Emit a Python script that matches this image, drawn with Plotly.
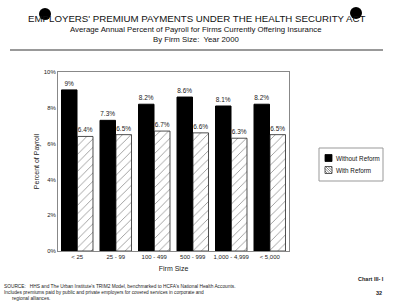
import plotly.graph_objects as go

categories = ["< 25", "25 - 99", "100 - 499", "500 - 999", "1,000 - 4,999", "< 5,000"]
without_reform = [9.0, 7.3, 8.2, 8.6, 8.1, 8.2]
with_reform = [6.4, 6.5, 6.7, 6.6, 6.3, 6.5]
without_labels = ["9%", "7.3%", "8.2%", "8.6%", "8.1%", "8.2%"]
with_labels = ["6.4%", "6.5%", "6.7%", "6.6%", "6.3%", "6.5%"]
series_names = ["Without Reform", "With Reform"]
y_ticks = [0, 2, 4, 6, 8, 10]
y_tick_labels = ["0%", "2%", "4%", "6%", "8%", "10%"]

FONT = "Liberation Sans, Arial, sans-serif"
L, R, T, B = 58, 111, 72, 55
PW, PH = 400 - L - R, 306 - T - B


def px(x):
    return (x - L) / PW


def py(y):
    return (306 - B - y) / PH


fig = go.Figure()
fig.add_trace(go.Bar(
    x=categories, y=without_reform, name=series_names[0], showlegend=False,
    marker=dict(color="black", line=dict(color="black", width=1)),
    text=without_labels, textposition="outside", cliponaxis=False,
    textfont=dict(size=6.5, color="#222", family=FONT),
))
fig.add_trace(go.Bar(
    x=categories, y=with_reform, name=series_names[1], showlegend=False,
    marker=dict(color="white", line=dict(color="#222", width=0.8),
                pattern=dict(shape="/", fgcolor="#333", bgcolor="white", size=6, solidity=0.15)),
    text=with_labels, textposition="outside", cliponaxis=False,
    textfont=dict(size=6.5, color="#222", family=FONT),
))

fig.update_layout(
    width=400, height=306,
    margin=dict(l=L, r=R, t=T, b=B, autoexpand=False),
    paper_bgcolor="white", plot_bgcolor="white",
    barmode="group", bargap=0.17, bargroupgap=0.03,
    font=dict(family=FONT, color="#222"),
    xaxis=dict(showline=True, linecolor="#888", linewidth=1, mirror=True,
               tickfont=dict(size=6, family=FONT), ticks="", tickangle=0,
               title=dict(text="Firm Size", font=dict(size=7, family=FONT), standoff=6)),
    yaxis=dict(range=[0, 10], tickvals=y_ticks, ticktext=y_tick_labels,
               showline=True, linecolor="#888", linewidth=1, mirror=True,
               showgrid=False, zeroline=False,
               tickfont=dict(size=6, family=FONT), ticks="",
               title=dict(text="Percent of Payroll", font=dict(size=7, family=FONT), standoff=3)),
)

ann = [
    dict(text="EMPLOYERS' PREMIUM PAYMENTS UNDER THE HEALTH SECURITY ACT", x=196, y=18, size=9.7),
    dict(text="Average Annual Percent of Payroll for Firms Currently Offering Insurance", x=196, y=30, size=7.8),
    dict(text="By Firm Size:  Year 2000", x=196, y=40, size=7.8),
]
for a in ann:
    fig.add_annotation(text=a["text"], xref="paper", yref="paper",
                       x=px(a["x"]), y=py(a["y"]),
                       showarrow=False, xanchor="center", yanchor="middle",
                       font=dict(size=a["size"], family=FONT, color="#111"))

foot = ("SOURCE:   HHS and The Urban Institute's TRIM2 Model, benchmarked to HCFA's National Health Accounts.<br>"
        "Includes premiums paid by public and private employers for covered services in corporate and<br>"
        "      regional alliances.")
fig.add_annotation(text=foot, xref="paper", yref="paper", x=px(2), y=py(282),
                   xanchor="left", yanchor="top", align="left", showarrow=False,
                   font=dict(size=4.8, family=FONT, color="#222"))
fig.add_annotation(text="<b>Chart III- I</b>", xref="paper", yref="paper", x=px(386),
                   y=py(279), xanchor="right", yanchor="middle", showarrow=False,
                   font=dict(size=5.5, family=FONT, color="#222"))
fig.add_annotation(text="<b>32</b>", xref="paper", yref="paper", x=px(384),
                   y=py(293), xanchor="right", yanchor="middle", showarrow=False,
                   font=dict(size=5.5, family=FONT, color="#222"))

# horizontal rule below the titles
fig.add_shape(type="line", xref="paper", yref="paper",
              x0=px(10), x1=px(383), y0=py(50), y1=py(50),
              line=dict(color="#999", width=2))

# legend (drawn manually to fit the compact box)
fig.add_shape(type="rect", xref="paper", yref="paper",
              x0=px(319), x1=px(383), y0=py(181), y1=py(148),
              line=dict(color="#999", width=1), fillcolor="white")
sx, s = 325, 7
for i, name in enumerate(series_names):
    cy = 158 + i * 12
    top = cy - s / 2
    if i == 0:
        fig.add_shape(type="rect", xref="paper", yref="paper",
                      x0=px(sx), x1=px(sx + s), y0=py(top + s), y1=py(top),
                      fillcolor="black", line=dict(color="black", width=0.8))
    else:
        fig.add_shape(type="rect", xref="paper", yref="paper",
                      x0=px(sx), x1=px(sx + s), y0=py(top + s), y1=py(top),
                      fillcolor="white", line=dict(color="#333", width=0.8))
        for d in [2.5, 5, 7.5, 10, 12.5]:
            ax, ay = max(0, d - s), min(s, d)
            bx, by = min(s, d), max(0, d - s)
            fig.add_shape(type="line", xref="paper", yref="paper",
                          x0=px(sx + ax), y0=py(top + s - ay),
                          x1=px(sx + bx), y1=py(top + s - by),
                          line=dict(color="#333", width=0.6))
    fig.add_annotation(text=name, xref="paper", yref="paper", x=px(sx + s + 2), y=py(cy),
                       xanchor="left", yanchor="middle", showarrow=False,
                       font=dict(size=6.3, family=FONT, color="#111"))

# punch holes
for cx, cy in [(45, 14), (356, 13)]:
    fig.add_shape(type="circle", xref="paper", yref="paper",
                  x0=px(cx - 6), x1=px(cx + 6), y0=py(cy + 6), y1=py(cy - 6),
                  fillcolor="black", line=dict(width=0))

fig.write_html("out.html")
